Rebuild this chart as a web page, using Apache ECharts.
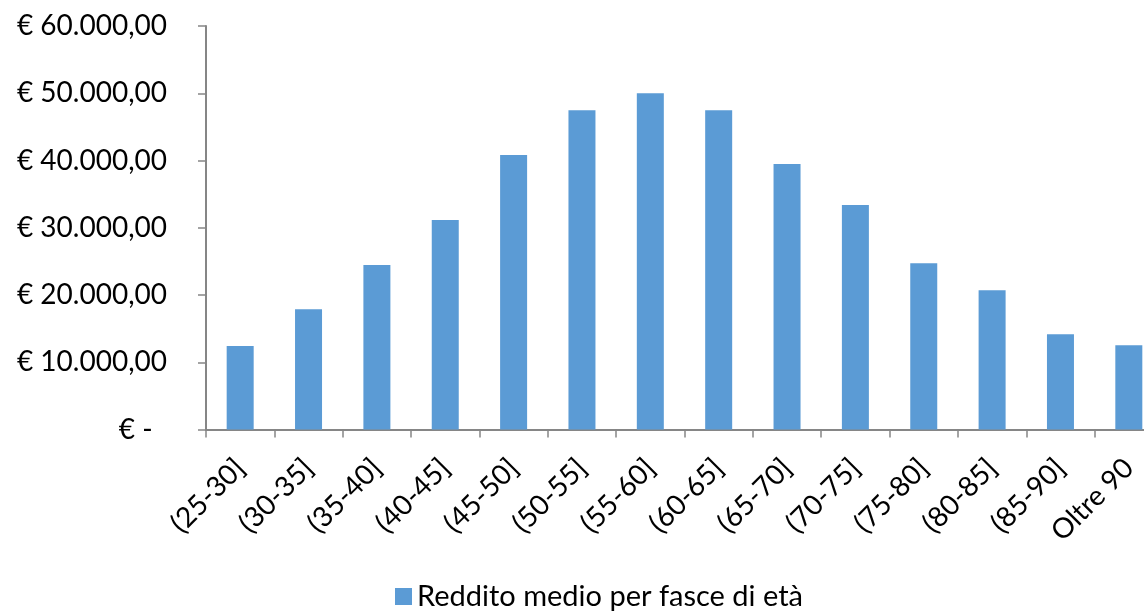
<!DOCTYPE html>
<html>
<head>
<meta charset="utf-8">
<title>Reddito medio per fasce di età</title>
<script src="https://cdn.jsdelivr.net/npm/echarts@6/dist/echarts.min.js"></script>
<style>
  html, body { margin: 0; padding: 0; background: #fff; overflow: hidden; }
  /* più largo della finestra: l'ultima fascia esce a destra come nell'originale */
  #chart { width: 1163px; height: 611px; }
</style>
</head>
<body>
<div id="chart"></div>
<script>
// categorie (fasce di età)
const fasce = ['(25-30]', '(30-35]', '(35-40]', '(40-45]', '(45-50]', '(50-55]', '(55-60]',
  '(60-65]', '(65-70]', '(70-75]', '(75-80]', '(80-85]', '(85-90]', 'Oltre 90']
// reddito medio
const redditoMedio = [12420, 17870, 24460, 31150, 40820, 47470, 50000,
  47460, 39480, 33380, 24710, 20700, 14160, 12520]
const nomeSerie = 'Reddito medio per fasce di età'
// tacche asse y
const yMin = 0
const yMax = 60000
const yStep = 10000

const FONT = 'Lato, "Open Sans", sans-serif'

// formato contabile italiano: € 10.000,00 / € -
function euro(v) {
  if (v === 0) return '€ -  '
  const intero = Math.round(v).toString().replace(/\B(?=(\d{3})+(?!\d))/g, '.')
  return '€ ' + intero + ',00'
}

const chart = echarts.init(document.getElementById('chart'))
chart.setOption({
  animation: false,
  textStyle: { fontFamily: FONT, color: '#000' },
  grid: { left: 206, top: 26, right: 0, height: 403.5, containLabel: false },
  legend: {
    data: [nomeSerie],
    left: 390,
    top: 577,
    icon: 'rect',
    itemWidth: 17,
    itemHeight: 17,
    itemGap: 9,
    textStyle: { fontFamily: FONT, fontSize: 29, color: '#000' }
  },
  xAxis: {
    type: 'category',
    data: fasce,
    axisLine: { lineStyle: { color: '#868686', width: 2 } },
    axisTick: { show: true, length: 8, lineStyle: { color: '#868686', width: 1.5 } },
    axisLabel: {
      rotate: 45,
      interval: 0,
      margin: 34,
      fontFamily: FONT,
      fontSize: 28,
      color: '#000'
    },
    splitLine: { show: false }
  },
  yAxis: {
    type: 'value',
    min: yMin,
    max: yMax,
    interval: yStep,
    axisLine: { show: true, lineStyle: { color: '#868686', width: 2 } },
    axisTick: { show: true, length: 8, lineStyle: { color: '#868686', width: 1.5 } },
    axisLabel: {
      margin: 39,
      fontFamily: FONT,
      fontSize: 28,
      color: '#000',
      formatter: euro
    },
    splitLine: { show: false }
  },
  series: [
    {
      name: nomeSerie,
      type: 'bar',
      data: redditoMedio,
      barWidth: 27,
      itemStyle: { color: '#5B9BD5' }
    }
  ]
})
</script>
</body>
</html>
